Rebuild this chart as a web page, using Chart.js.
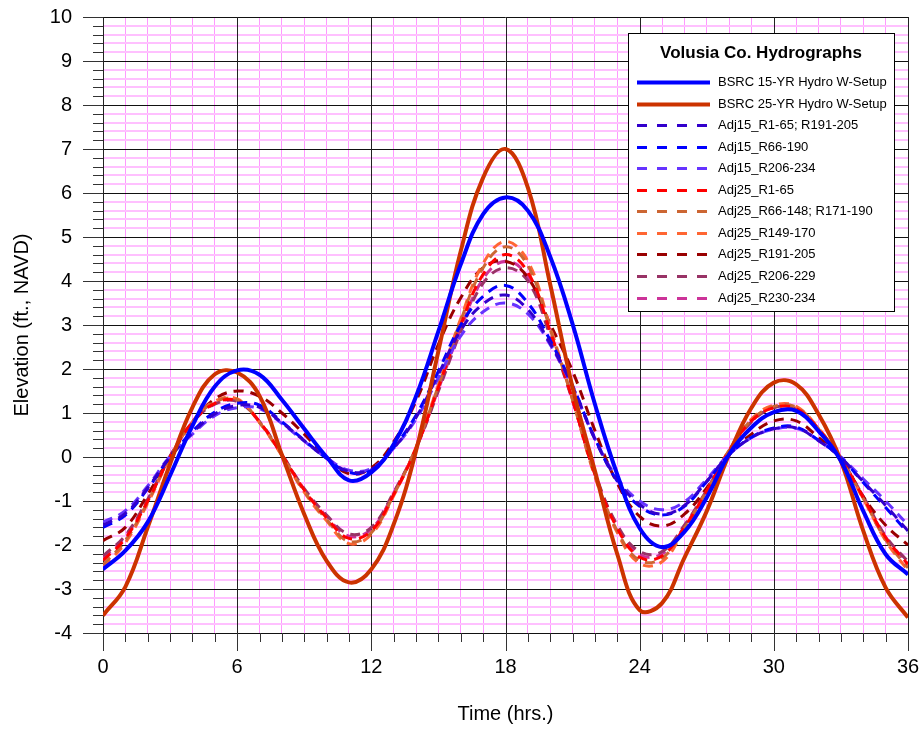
<!DOCTYPE html>
<html>
<head>
<meta charset="utf-8">
<script src="https://cdn.jsdelivr.net/npm/chart.js@4.4.1/dist/chart.umd.min.js"></script>
<style>
  body { margin: 0; background: #fff; }
  #wrap { width: 922px; height: 736px; }
</style>
</head>
<body>
<div id="wrap"><canvas id="myChart" width="922" height="736"></canvas></div>
<script>
// time axis (hrs)
const hours = [0, 1, 2, 3, 4, 5, 6, 7, 8, 9, 10, 11, 12, 13, 14, 15, 16, 17, 18,
  19, 20, 21, 22, 23, 24, 25, 26, 27, 28, 29, 30, 31, 32, 33, 34, 35, 36];

// elevations (ft., NAVD)
const bsrc15 = [-2.55, -2.13, -1.48, -0.42, 0.71, 1.6, 1.97, 1.87, 1.3, 0.64, 0.0, -0.53, -0.35, 0.29, 1.38, 2.86, 4.38, 5.52, 5.9,
  5.6, 4.55, 3.02, 1.2, -0.4, -1.62, -2.05, -1.7, -0.92, 0.06, 0.67, 1.02, 1.05, 0.59, -0.09, -1.23, -2.21, -2.67];
const bsrc25 = [-3.6, -2.95, -1.6, -0.16, 1.13, 1.88, 1.92, 1.39, 0.05, -1.3, -2.36, -2.85, -2.55, -1.53, 0.14, 2.41, 4.68, 6.35, 7.0,
  6.12, 3.92, 1.58, -0.32, -2.21, -3.48, -3.32, -2.29, -1.23, 0.06, 1.12, 1.69, 1.65, 0.97, -0.09, -1.68, -2.97, -3.65];
const adj15R1 = [-1.55, -1.28, -0.7, 0.0, 0.55, 0.98, 1.17, 1.13, 0.78, 0.37, -0.03, -0.33, -0.28, 0.2, 0.9, 1.88, 2.88, 3.48, 3.68,
  3.35, 2.58, 1.6, 0.4, -0.52, -1.08, -1.3, -1.1, -0.55, 0.05, 0.44, 0.64, 0.66, 0.37, -0.02, -0.56, -1.1, -1.68];
const adj15R66 = [-1.6, -1.32, -0.72, 0.0, 0.58, 1.02, 1.22, 1.18, 0.8, 0.38, -0.03, -0.35, -0.3, 0.22, 0.95, 1.95, 3.0, 3.65, 3.9,
  3.5, 2.65, 1.62, 0.42, -0.55, -1.12, -1.32, -1.12, -0.56, 0.05, 0.45, 0.66, 0.68, 0.38, -0.02, -0.58, -1.15, -1.72];
const adj15R206 = [-1.48, -1.22, -0.66, 0.02, 0.52, 0.94, 1.12, 1.1, 0.76, 0.36, -0.02, -0.3, -0.26, 0.2, 0.86, 1.8, 2.75, 3.3, 3.5,
  3.25, 2.55, 1.58, 0.42, -0.48, -1.0, -1.2, -1.02, -0.5, 0.06, 0.44, 0.63, 0.65, 0.38, 0.0, -0.5, -1.0, -1.55];
const adj25R1 = [-2.35, -1.85, -1.0, 0.0, 0.79, 1.22, 1.28, 0.8, 0.05, -0.75, -1.38, -1.85, -1.68, -0.85, 0.2, 1.58, 3.0, 4.15, 4.6,
  4.2, 2.85, 1.3, -0.4, -1.62, -2.28, -2.25, -1.6, -0.77, 0.14, 0.82, 1.12, 1.1, 0.63, -0.05, -0.92, -1.83, -2.44];
const adj25R66 = [-2.45, -1.9, -1.02, 0.0, 0.8, 1.25, 1.3, 0.78, 0.04, -0.78, -1.42, -1.92, -1.72, -0.86, 0.22, 1.62, 3.1, 4.3, 4.78,
  4.35, 2.9, 1.3, -0.42, -1.68, -2.35, -2.3, -1.62, -0.77, 0.15, 0.84, 1.15, 1.13, 0.64, -0.05, -0.94, -1.88, -2.52];
const adj25R149 = [-2.5, -1.95, -1.05, -0.02, 0.8, 1.27, 1.32, 0.78, 0.03, -0.8, -1.45, -1.97, -1.76, -0.88, 0.22, 1.65, 3.15, 4.4, 4.9,
  4.45, 2.95, 1.3, -0.45, -1.72, -2.42, -2.38, -1.65, -0.78, 0.16, 0.86, 1.18, 1.15, 0.65, -0.05, -0.95, -1.9, -2.58];
const adj25R191 = [-1.9, -1.6, -0.85, 0.0, 0.79, 1.32, 1.5, 1.38, 1.0, 0.52, 0.0, -0.38, -0.25, 0.35, 1.27, 2.56, 3.62, 4.3, 4.45,
  4.08, 3.02, 1.95, 0.6, -0.6, -1.35, -1.57, -1.3, -0.7, 0.06, 0.52, 0.82, 0.82, 0.44, -0.03, -0.9, -1.55, -2.0];
const adj25R206 = [-2.25, -1.78, -0.96, 0.02, 0.78, 1.2, 1.26, 0.8, 0.06, -0.72, -1.32, -1.75, -1.6, -0.8, 0.2, 1.5, 2.85, 3.95, 4.3,
  4.0, 2.75, 1.28, -0.36, -1.55, -2.15, -2.15, -1.55, -0.75, 0.14, 0.8, 1.12, 1.1, 0.62, -0.04, -0.9, -1.8, -2.38];
const adj25R230 = [-2.3, -1.8, -0.98, 0.01, 0.79, 1.21, 1.27, 0.8, 0.05, -0.74, -1.35, -1.8, -1.64, -0.82, 0.2, 1.54, 2.92, 4.05, 4.45,
  4.1, 2.8, 1.3, -0.38, -1.58, -2.22, -2.2, -1.58, -0.76, 0.14, 0.81, 1.13, 1.12, 0.63, -0.05, -0.92, -1.82, -2.42];

const seriesNames = ['BSRC 15-YR Hydro W-Setup', 'BSRC 25-YR Hydro W-Setup', 'Adj15_R1-65; R191-205', 'Adj15_R66-190',
  'Adj15_R206-234', 'Adj25_R1-65', 'Adj25_R66-148; R171-190', 'Adj25_R149-170', 'Adj25_R191-205', 'Adj25_R206-229', 'Adj25_R230-234'];
const seriesValues = [bsrc15, bsrc25, adj15R1, adj15R66, adj15R206, adj25R1, adj25R66, adj25R149, adj25R191, adj25R206, adj25R230];
const seriesColors = ['#0000ff', '#cc3300', '#3300cc', '#0000ff', '#6633ff', '#ff0000', '#cc6633', '#ff6633', '#990000', '#993366', '#cc3399'];

const FONT = '"Liberation Sans", Arial, sans-serif';

const isInt = v => Math.abs(v - Math.round(v)) < 1e-6;

// dark grid lines go over the pink ones, tick marks outside the plot
const axisMarks = {
  id: 'axisMarks',
  beforeDatasetsDraw(chart) {
    const c = chart.ctx;
    const xs = chart.scales.x, ys = chart.scales.y, a = chart.chartArea;
    c.save();
    c.lineWidth = 1;
    c.strokeStyle = '#111';
    c.beginPath();
    ys.ticks.forEach(t => {
      if (!isInt(t.value)) return;
      const py = Math.round(ys.getPixelForValue(t.value)) + 0.5;
      c.moveTo(a.left, py);
      c.lineTo(a.right, py);
    });
    c.stroke();
    c.strokeStyle = '#222';
    c.beginPath();
    xs.ticks.forEach(t => {
      if (t.value % 6 !== 0) return;
      const px = Math.round(xs.getPixelForValue(t.value)) + 0.5;
      c.moveTo(px, a.top);
      c.lineTo(px, a.bottom);
    });
    c.stroke();
    c.restore();
  },
  afterDraw(chart) {
    const c = chart.ctx;
    const xs = chart.scales.x, ys = chart.scales.y, a = chart.chartArea;
    c.save();
    c.strokeStyle = '#333';
    c.lineWidth = 1;
    c.beginPath();
    xs.ticks.forEach(t => {
      const px = Math.round(xs.getPixelForValue(t.value)) + 0.5;
      const len = t.value % 6 === 0 ? 18 : 9;
      c.moveTo(px, a.bottom);
      c.lineTo(px, a.bottom + len);
    });
    ys.ticks.forEach(t => {
      const py = Math.round(ys.getPixelForValue(t.value)) + 0.5;
      const len = isInt(t.value) ? 20 : 10;
      c.moveTo(a.left - len, py);
      c.lineTo(a.left, py);
    });
    c.stroke();
    c.restore();
  }
};

// boxed legend in the upper right of the plot
const legendBox = {
  id: 'legendBox',
  afterDraw(chart) {
    const c = chart.ctx;
    c.save();
    c.fillStyle = '#fff';
    c.fillRect(628, 33, 267, 279);
    c.strokeStyle = '#000';
    c.lineWidth = 1;
    c.strokeRect(628.5, 33.5, 266, 278);
    c.fillStyle = '#000';
    c.font = 'bold 17px ' + FONT;
    c.textAlign = 'center';
    c.textBaseline = 'middle';
    c.fillText('Volusia Co. Hydrographs', 761, 53);
    c.font = '13px ' + FONT;
    c.textAlign = 'left';
    chart.data.datasets.forEach((ds, i) => {
      const y = Math.round(82 + i * 21.55) + 0.5;
      c.strokeStyle = ds.borderColor;
      c.lineWidth = ds.borderWidth;
      c.setLineDash(ds.borderDash && ds.borderDash.length ? [10, 10] : []);
      c.beginPath();
      c.moveTo(637, y);
      c.lineTo(710, y);
      c.stroke();
      c.setLineDash([]);
      c.fillText(ds.label, 718, y);
    });
    c.restore();
  }
};

const ctx = document.getElementById('myChart');

new Chart(ctx, {
  type: 'line',
  data: {
    datasets: seriesNames.map((name, i) => ({
      label: name,
      data: hours.map((h, k) => ({ x: h, y: seriesValues[i][k] })),
      borderColor: seriesColors[i],
      borderWidth: i < 2 ? 4 : 3,
      borderDash: i < 2 ? [] : [10, 7],
      pointRadius: 0,
      tension: 0.4,
      fill: false
    }))
  },
  options: {
    responsive: false,
    animation: false,
    devicePixelRatio: 1,
    layout: { padding: { left: 0, right: 14, top: 17, bottom: 0 } },
    plugins: {
      legend: { display: false },
      tooltip: { enabled: false }
    },
    scales: {
      x: {
        type: 'linear',
        min: 0,
        max: 36,
        ticks: {
          stepSize: 1,
          autoSkip: false,
          maxRotation: 0,
          padding: 0,
          color: '#000',
          font: { family: FONT, size: 20 },
          callback: v => (v % 6 === 0 ? v : '')
        },
        grid: {
          drawTicks: true,
          tickLength: 22,
          tickColor: 'rgba(0,0,0,0)',
          color: c => (c.tick && c.tick.value % 6 === 0 ? 'rgba(0,0,0,0)' : '#ff99ff'),
          lineWidth: 1
        },
        border: { color: '#000', width: 1 },
        title: {
          display: true,
          text: 'Time (hrs.)',
          color: '#000',
          font: { family: FONT, size: 20 },
          padding: { top: 0, bottom: 10 }
        },
        afterFit: s => { s.height = 103; }
      },
      y: {
        min: -4,
        max: 10,
        ticks: {
          stepSize: 0.2,
          autoSkip: false,
          padding: 0,
          color: '#000',
          font: { family: FONT, size: 20 },
          callback: v => (isInt(v) ? Math.round(v) : '')
        },
        grid: {
          drawTicks: true,
          tickLength: 31,
          tickColor: 'rgba(0,0,0,0)',
          color: c => (c.tick && isInt(c.tick.value) ? 'rgba(0,0,0,0)' : '#ffc0ff'),
          lineWidth: 2
        },
        border: { color: '#000', width: 1 },
        title: {
          display: true,
          text: 'Elevation (ft., NAVD)',
          color: '#000',
          font: { family: FONT, size: 20 },
          padding: { top: 10, bottom: 0 }
        },
        afterFit: s => { s.width = 103; }
      }
    }
  },
  plugins: [axisMarks, legendBox]
});
</script>
</body>
</html>
